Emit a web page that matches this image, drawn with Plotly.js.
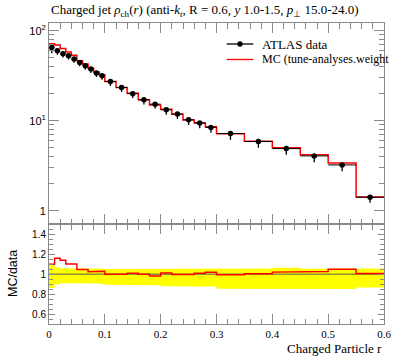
<!DOCTYPE html>
<html><head><meta charset="utf-8">
<script src="https://cdn.plot.ly/plotly-3.0.1.min.js"></script>
<style>html,body{margin:0;padding:0;background:#fff}#chart{width:397px;height:358px}</style>
</head><body><div id="chart"></div>
<script>
// bin edges of Charged Particle r
const binEdges = [0,0.01,0.02,0.03,0.04,0.05,0.06,0.07,0.08,0.09,0.10,
  0.12,0.14,0.16,0.18,0.20,0.22,0.24,0.26,0.28,0.30,
  0.35,0.40,0.45,0.50,0.55,0.60];
// ATLAS data
const dataVal = [65.2,59.9,55.5,52.7,48.5,44.4,40.8,37.5,33.9,31.6,
  27.3,23.4,20.0,17.1,15.3,13.25,11.9,10.26,9.43,8.43,
  7.23,5.89,4.92,4.08,3.24,1.42];
const dataErrUp = [6.1,4.2,3.3,3.2,2.9,2.4,2.2,2.1,1.9,1.7,
  1.4,1.2,1.0,0.9,0.8,0.66,0.6,0.52,0.48,0.44,
  0.38,0.33,0.31,0.22,0.17,0.08];
const dataErrDown = [9.1,6.0,5.0,4.7,4.4,4.2,3.9,3.6,3.2,3.1,
  2.9,2.5,2.1,1.9,1.7,1.6,1.4,1.25,1.15,1.05,
  1.06,0.88,0.72,0.62,0.48,0.19];
// MC (tune-analyses.weights)
const mcVal = [71.7,69.5,63.3,58.0,53.4,46.5,42.7,38.4,34.7,32.5,
  27.3,23.4,20.2,17.1,15.0,13.4,11.86,10.23,9.52,8.6,
  7.18,5.92,5.02,4.19,3.40,1.43];

const xTickVals = [0,0.1,0.2,0.3,0.4,0.5,0.6];
const xTickText = ['0','0.1','0.2','0.3','0.4','0.5','0.6'];
const yTickVals = [1,10,100];
const yTickText = ['1','10<sup>1</sup>','10<sup>2</sup>'];
const rTickVals = [0.6,0.8,1,1.2,1.4];
const rTickText = ['0.6','0.8','1','1.2','1.4'];

const centers = dataVal.map((v,i)=>(binEdges[i]+binEdges[i+1])/2);
const halfW = dataVal.map((v,i)=>(binEdges[i+1]-binEdges[i])/2);
function steps(vals){
  const xs=[], ys=[];
  vals.forEach((v,i)=>{xs.push(binEdges[i],binEdges[i+1]); ys.push(v,v);});
  return {x:xs,y:ys};
}
const ratioMC = mcVal.map((v,i)=>v/dataVal[i]);
const ratioData = dataVal.map((v,i)=>v/dataVal[i]);
const bandLo = dataVal.map((v,i)=>(v-dataErrDown[i])/v);
const bandHi = dataVal.map((v,i)=>(v+dataErrUp[i])/v);

const sMC = steps(mcVal), sLo = steps(bandLo), sHi = steps(bandHi),
      sR = steps(ratioMC), sD = steps(ratioData);

const traces = [
  {x:sMC.x,y:sMC.y,xaxis:'x',yaxis:'y',mode:'lines',line:{color:'#ff0000',width:1.5},hoverinfo:'skip'},
  {x:centers,y:dataVal,xaxis:'x',yaxis:'y',mode:'markers',marker:{color:'#000',size:5.5},
   error_y:{type:'data',symmetric:false,array:dataErrUp,arrayminus:dataErrDown,color:'#000',thickness:1.3,width:0},
   error_x:{type:'data',array:halfW,color:'#000',thickness:1,width:0}},
  {x:sLo.x,y:sLo.y,xaxis:'x2',yaxis:'y2',mode:'lines',line:{color:'rgba(0,0,0,0)',width:0},hoverinfo:'skip'},
  {x:sHi.x,y:sHi.y,xaxis:'x2',yaxis:'y2',mode:'lines',fill:'tonexty',fillcolor:'#ffff00',line:{color:'rgba(0,0,0,0)',width:0},hoverinfo:'skip'},
  {x:sD.x,y:sD.y,xaxis:'x2',yaxis:'y2',mode:'lines',line:{color:'#555',width:1},hoverinfo:'skip'},
  {x:sR.x,y:sR.y,xaxis:'x2',yaxis:'y2',mode:'lines',line:{color:'#ff0000',width:1.5},hoverinfo:'skip'}
];

const gray = '#8a8a8a';
const serif = 'Liberation Serif, Times New Roman, serif';
const sans = 'Liberation Sans, Arial, sans-serif';
const common = {showgrid:false,zeroline:false,showline:true,linecolor:gray,linewidth:1,
  ticks:'inside',tickcolor:gray,mirror:'allticks'};
const PL=49, PR=384, PT=23, PB=324;
const px = v => (v-PL)/(PR-PL);
const py = v => (PB-v)/(PB-PT);
const ratioTop = py(224.3);

const layout = {
  width:397,height:358,margin:{l:PL,r:397-PR,t:PT,b:358-PB},
  paper_bgcolor:'#fff',plot_bgcolor:'#fff',showlegend:false,
  xaxis:Object.assign({},common,{domain:[0,1],anchor:'y',range:[0,0.6],showticklabels:false,
    tickvals:xTickVals,ticklen:10,minor:{dtick:0.02,tick0:0,ticks:'inside',ticklen:5.5,tickcolor:gray}}),
  yaxis:Object.assign({},common,{domain:[ratioTop,1],anchor:'x',type:'log',range:[-0.148,2.085],
    tickvals:yTickVals,ticktext:yTickText,ticklen:10,tickfont:{family:sans,size:11,color:'#000'},
    minor:{tickvals:[2,3,4,5,6,7,8,9,20,30,40,50,60,70,80,90],ticks:'inside',ticklen:5,tickcolor:gray}}),
  xaxis2:Object.assign({},common,{domain:[0,1],anchor:'y2',range:[0,0.6],matches:'x',
    tickvals:xTickVals,ticktext:xTickText,ticklen:10,tickfont:{family:serif,size:11,color:'#000'},
    minor:{dtick:0.02,tick0:0,ticks:'inside',ticklen:5.5,tickcolor:gray}}),
  yaxis2:Object.assign({},common,{domain:[0,ratioTop],anchor:'x2',range:[0.5,1.5],
    tickvals:rTickVals,ticktext:rTickText,ticklen:6,tickfont:{family:sans,size:10,color:'#000'},
    minor:{dtick:0.05,tick0:0,ticks:'inside',ticklen:4,tickcolor:gray}}),
  annotations:[
    {xref:'paper',yref:'paper',x:0,y:py(11),xanchor:'left',yanchor:'middle',showarrow:false,
     text:'Charged jet <i>ρ</i><sub>ch</sub>(<i>r</i>) (anti-<i>k</i><sub><i>t</i></sub>, R = 0.6, <i>y</i> 1.0-1.5, <i>p</i><sub>⊥</sub> 15.0-24.0)',
     font:{family:serif,size:13,color:'#000'}},
    {xref:'paper',yref:'paper',x:px(260),y:py(44),xanchor:'left',yanchor:'middle',showarrow:false,
     text:'ATLAS data',font:{family:serif,size:13,color:'#000'}},
    {xref:'paper',yref:'paper',x:px(260),y:py(59.5),xanchor:'left',yanchor:'middle',showarrow:false,
     text:'MC (tune-analyses.weight',font:{family:serif,size:12,color:'#000'}},
    {xref:'paper',yref:'paper',x:1,y:py(348),xanchor:'right',yanchor:'middle',showarrow:false,
     text:'Charged Particle r',font:{family:serif,size:13,color:'#000'}},
    {xref:'paper',yref:'paper',x:px(13),y:py(274),xanchor:'center',yanchor:'middle',showarrow:false,textangle:-90,
     text:'MC/data',font:{family:sans,size:12.5,color:'#000'}}
  ],
  shapes:[
    {type:'line',xref:'paper',yref:'paper',x0:px(226.7),x1:px(253.3),y0:py(44),y1:py(44),line:{color:'#000',width:1.3}},
    {type:'circle',xref:'paper',yref:'paper',x0:px(237.3),x1:px(242.7),y0:py(46.7),y1:py(41.3),fillcolor:'#000',line:{color:'#000',width:0}},
    {type:'line',xref:'paper',yref:'paper',x0:px(226.7),x1:px(253.3),y0:py(59.5),y1:py(59.5),line:{color:'#ff0000',width:1.3}}
  ]
};
Plotly.newPlot('chart',traces,layout,{displayModeBar:false,staticPlot:true});
</script></body></html>
